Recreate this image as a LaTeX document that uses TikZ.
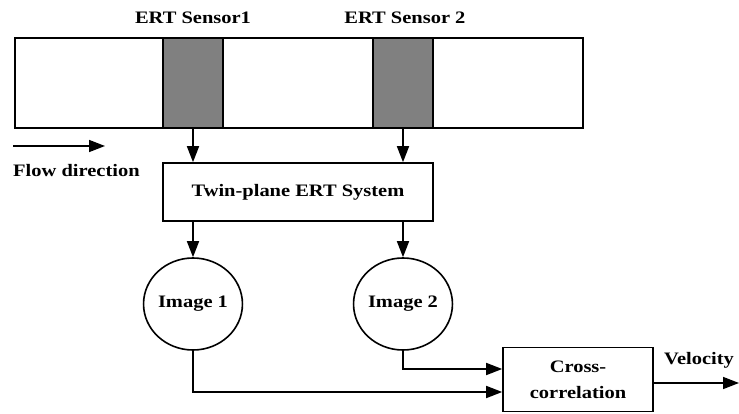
\documentclass[tikz,border=0pt]{standalone}
\usepackage{fontspec}
\setmainfont[FakeStretch=1.17]{Liberation Serif}
\usetikzlibrary{arrows.meta,shapes.geometric}
\tikzset{
  lbl/.style={font=\bfseries\fontsize{17.5}{26}\selectfont, inner sep=0pt, align=center},
  line/.style={line width=1.6pt, draw=black},
  arr/.style={line, -{Triangle[length=16pt,width=12pt]}},
  sensorbox/.style={draw=black, line width=1.6pt, fill=gray!100!white, minimum width=60pt, minimum height=90pt, inner sep=0pt},
  blockbox/.style={draw=black, line width=1.6pt, fill=white, inner sep=0pt, font=\bfseries\fontsize{17.5}{26}\selectfont, align=center},
  imgnode/.style={ellipse, draw=black, line width=1.6pt, minimum width=84pt, minimum height=92pt, inner sep=0pt, font=\bfseries\fontsize{17.5}{26}\selectfont}
}
\definecolor{sensorgray}{RGB}{128,128,128}
\begin{document}
\begin{tikzpicture}[x=1pt,y=-1pt]
\useasboundingbox (0,0) rectangle (739,414);
% pipe
\node[draw=black, line width=1.6pt, minimum width=568pt, minimum height=90pt, inner sep=0pt] (pipe) at (299,83) {};
\node[sensorbox, fill=sensorgray] (s1) at (193,83) {};
\node[sensorbox, fill=sensorgray] (s2) at (403,83) {};
\node[lbl] (l1) at (193,18) {ERT Sensor1};
\node[lbl] (l2) at (405,18) {ERT Sensor 2};
% flow
\coordinate (f1) at (13,146);
\coordinate (f2) at (105,146);
\draw[arr] (f1) -- (f2);
\node[lbl, anchor=west] (flow) at (13,171) {Flow direction};
% twin box
\node[blockbox, minimum width=270pt, minimum height=58pt] (twin) at (298,192) {Twin-plane ERT System};
\draw[arr] (s1.south) -- (s1.south |- twin.north);
\draw[arr] (s2.south) -- (s2.south |- twin.north);
% images
\node[imgnode] (img1) at (193,304) {Image 1};
\node[imgnode] (img2) at (403,304) {Image 2};
\draw[arr] (img1.north |- twin.south) -- (img1.north);
\draw[arr] (img2.north |- twin.south) -- (img2.north);
% cross-correlation
\node[blockbox, minimum width=150pt, minimum height=64pt] (cc) at (578,379.5) {Cross-\\correlation};
\draw[arr] (img2.south) |- ([yshift=10.5pt]cc.west);
\draw[arr] (img1.south) |- ([yshift=-12.5pt]cc.west);
\coordinate (vend) at (739,383);
\draw[arr] (cc.east |- vend) -- (vend);
\node[lbl] (vel) at (699,360) {Velocity};
\end{tikzpicture}
\end{document}
